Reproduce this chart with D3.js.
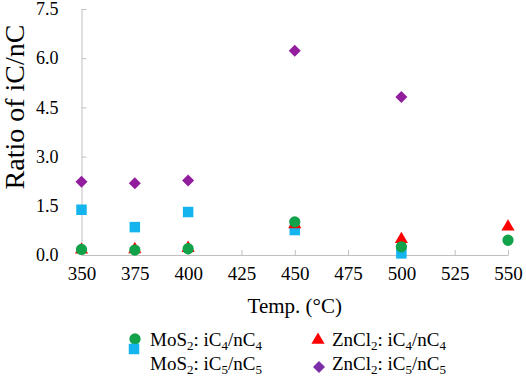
<!DOCTYPE html>
<html>
<head>
<meta charset="utf-8">
<script src="https://cdn.jsdelivr.net/npm/d3@7"></script>
<style>
  body { margin: 0; background: #fff; }
  svg text { font-family: "Liberation Serif", serif !important; fill: #000; }
</style>
</head>
<body>
<svg id="chart" width="526" height="378"></svg>
<script>
// data
var xTicks = [350, 375, 400, 425, 450, 475, 500, 525, 550];
var yTicks = [0, 1.5, 3.0, 4.5, 6.0, 7.5];

var mosC4Temp = [350, 375, 400, 450, 500, 550];
var mosC4 = [0.17, 0.15, 0.19, 1.01, 0.25, 0.45];

var mosC5Temp = [350, 375, 400, 450, 500];
var mosC5 = [1.38, 0.85, 1.31, 0.76, 0.05];

var znC4Temp = [350, 375, 400, 450, 500, 550];
var znC4 = [0.16, 0.17, 0.21, 0.93, 0.48, 0.86];

var znC5Temp = [350, 375, 400, 450, 500];
var znC5 = [2.23, 2.19, 2.27, 6.23, 4.82];

var svg = d3.select("#chart");

var x = d3.scaleLinear().domain([350, 550]).range([81.5, 508]);
var y = d3.scaleLinear().domain([0, 7.5]).range([255, 9]);

var axisColor = "#c0c0c0";

// x axis, ticks pointing up
var xAxis = svg.append("g")
    .attr("transform", "translate(0," + y(0) + ")")
    .call(d3.axisBottom(x).tickValues(xTicks).tickSizeInner(-5).tickSizeOuter(0).tickPadding(11))
    .attr("font-family", "Liberation Serif")
    .attr("font-size", 19);
xAxis.select(".domain").attr("stroke", axisColor);
xAxis.selectAll(".tick line").attr("stroke", axisColor);
xAxis.selectAll("text").attr("dy", "0.75em").attr("fill", "#000");

// y axis, ticks pointing right
var yAxis = svg.append("g")
    .attr("transform", "translate(" + x(350) + ",0)")
    .call(d3.axisLeft(y).tickValues(yTicks).tickFormat(d3.format(".1f"))
        .tickSizeInner(-5).tickSizeOuter(0).tickPadding(23))
    .attr("font-family", "Liberation Serif")
    .attr("font-size", 18);
yAxis.select(".domain").attr("stroke", axisColor);
yAxis.selectAll(".tick line").attr("stroke", axisColor);
yAxis.selectAll("text").attr("fill", "#000");

// axis titles
svg.append("text")
    .attr("x", (x(350) + x(550)) / 2)
    .attr("y", 313)
    .attr("text-anchor", "middle")
    .style("font-size", "21px")
    .text("Temp. (°C)");

svg.append("text")
    .attr("transform", "translate(24," + 107 + ") rotate(-90)")
    .attr("text-anchor", "middle")
    .style("font-size", "28px")
    .text("Ratio of iC/nC");

var colors = {
    mosC4: "#12a24a",
    mosC5: "#14b4ee",
    znC4: "#ff0000",
    znC5: "#921e9e"
};

function zip(t, v) { return t.map(function(d, i) { return {t: d, v: v[i]}; }); }

var sym = {
    square: d3.symbol().type(d3.symbolSquare).size(110),
    triangle: d3.symbol().type(d3.symbolTriangle).size(75),
    circle: d3.symbol().type(d3.symbolCircle).size(100),
    diamond: d3.symbol().type(d3.symbolSquare).size(72)
};

function drawSeries(data, path, color, rot) {
    svg.append("g").selectAll("path")
        .data(data)
        .enter().append("path")
        .attr("d", path)
        .attr("fill", color)
        .attr("transform", function(d) {
            return "translate(" + x(d.t) + "," + y(d.v) + ")" + (rot ? " rotate(45)" : "");
        });
}

drawSeries(zip(znC5Temp, znC5), sym.diamond, colors.znC5, true);
drawSeries(zip(mosC5Temp, mosC5), sym.square, colors.mosC5, false);
drawSeries(zip(znC4Temp, znC4), sym.triangle, colors.znC4, false);
drawSeries(zip(mosC4Temp, mosC4), sym.circle, colors.mosC4, false);

// legend
var legendItems = [
    {sym: sym.circle, color: colors.mosC4, mx: 135, my: 339, tx: 150, ty: 346, cat: "MoS", sub: "4", rot: false},
    {sym: sym.square, color: colors.mosC5, mx: 134, my: 349, tx: 150, ty: 370, cat: "MoS", sub: "5", rot: false},
    {sym: sym.triangle, color: colors.znC4, mx: 318, my: 340, tx: 332, ty: 346, cat: "ZnCl", sub: "4", rot: false},
    {sym: sym.diamond, color: "#7b2fa8", mx: 319, my: 367, tx: 332, ty: 370, cat: "ZnCl", sub: "5", rot: true}
];

var legend = svg.append("g");
legendItems.forEach(function(d) {
    legend.append("path")
        .attr("d", d.sym)
        .attr("fill", d.color)
        .attr("transform", "translate(" + d.mx + "," + d.my + ")" + (d.rot ? " rotate(45)" : ""));
    var t = legend.append("text")
        .attr("x", d.tx)
        .attr("y", d.ty)
        .style("font-size", "19px");
    t.append("tspan").text(d.cat);
    t.append("tspan").attr("dy", 4).style("font-size", "13px").text("2");
    t.append("tspan").attr("dy", -4).text(": iC");
    t.append("tspan").attr("dy", 4).style("font-size", "13px").text(d.sub);
    t.append("tspan").attr("dy", -4).text("/nC");
    t.append("tspan").attr("dy", 4).style("font-size", "13px").text(d.sub);
});
</script>
</body>
</html>
